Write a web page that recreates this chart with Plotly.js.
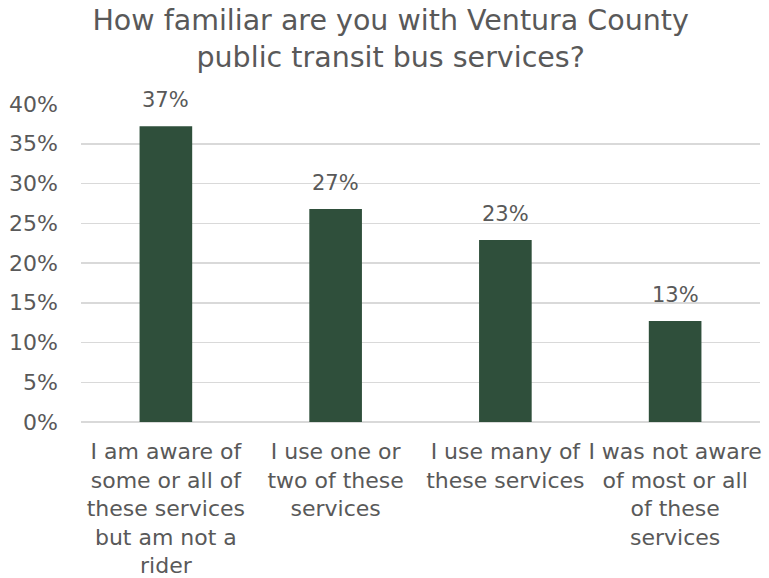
<!DOCTYPE html>
<html>
<head>
<meta charset="utf-8">
<script src="https://cdn.plot.ly/plotly-3.0.1.min.js"></script>
<style>html,body{margin:0;padding:0;background:#fff;}#chart{width:769px;height:578px;}</style>
</head>
<body>
<div id="chart"></div>
<script>
const categories = [
  "I am aware of<br>some or all of<br>these services<br>but am not a<br>rider",
  "I use one or<br>two of these<br>services",
  "I use many of<br>these services",
  "I was not aware<br>of most or all<br>of these<br>services"
];
const values = [0.372, 0.268, 0.229, 0.127];
const labels = ["37%", "27%", "23%", "13%"];
const yTicks = [0, 0.05, 0.10, 0.15, 0.20, 0.25, 0.30, 0.35, 0.40];

const font = "'DejaVu Sans', sans-serif";
const grey = "#595959";

const annotations = categories.map((c, i) => ({
  x: c, y: values[i], text: labels[i],
  xref: "x", yref: "y", showarrow: false,
  yanchor: "middle", yshift: 26,
  font: {family: font, size: 21, color: grey}
}));

Plotly.newPlot("chart", [{
  type: "bar",
  x: categories,
  y: values,
  marker: {color: "#2f4f3b"},
  width: 0.31,
  hoverinfo: "none"
}], {
  width: 769, height: 578,
  margin: {l: 81, r: 9, t: 104, b: 156},
  paper_bgcolor: "#fff", plot_bgcolor: "#fff",
  font: {family: font, color: grey},
  title: {
    text: "How familiar are you with Ventura County<br>public transit bus services?",
    font: {family: font, size: 28.5, color: grey},
    x: 0.508, xanchor: "center", y: 0.948, yanchor: "top"
  },
  annotations: annotations,
  showlegend: false,
  xaxis: {
    type: "category",
    tickfont: {family: font, size: 22, color: grey},
    showgrid: false, zeroline: false, showline: false,
    ticks: "", ticklabelstandoff: 14
  },
  yaxis: {
    range: [0, 0.4],
    tickvals: yTicks,
    tickformat: ".0%",
    tickfont: {family: font, size: 22, color: grey},
    showgrid: true, gridcolor: "#d9d9d9", gridwidth: 1.5,
    zeroline: true, zerolinecolor: "#d9d9d9", zerolinewidth: 1.5,
    showline: false, ticks: "", ticklabelstandoff: 22
  },
  bargap: 0.69
}, {displayModeBar: false, staticPlot: true});
</script>
</body>
</html>
